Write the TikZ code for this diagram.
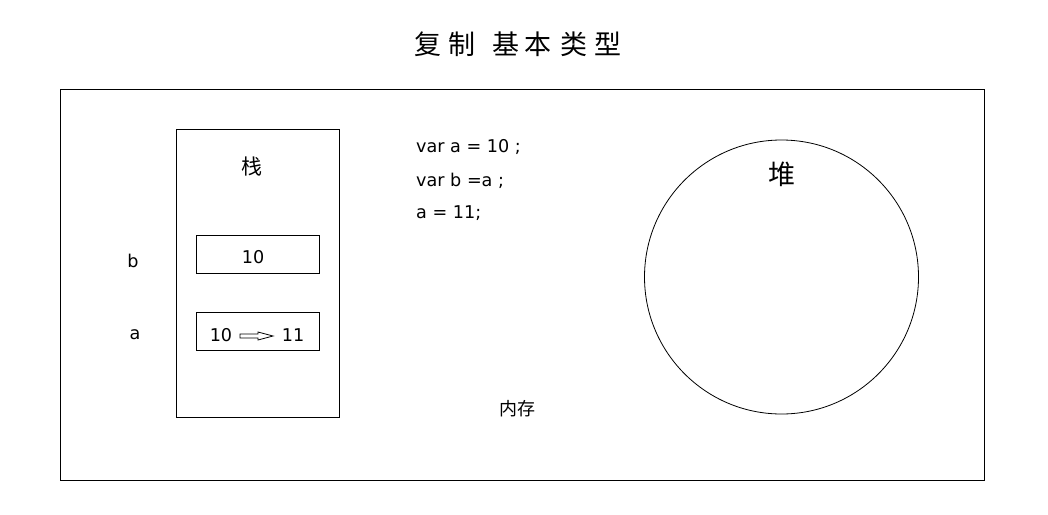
\documentclass[tikz,border=0pt]{standalone}
\usepackage{fontspec}
\setmainfont{DejaVu Sans}
\newfontfamily\cjk{Noto Sans CJK SC}
\usetikzlibrary{calc}
\tikzset{
  box/.style={draw=black, line width=0.8pt},
  txt/.style={inner sep=0pt, font=\fontsize{17.6}{20}\selectfont},
  cjktxt/.style={inner sep=0pt},
}
\begin{document}
\begin{tikzpicture}[x=1pt,y=-1pt]
\useasboundingbox[fill=white] (0,0) rectangle (1048,514);
% title
\node[cjktxt, font=\cjk\fontsize{27}{27}\selectfont] (title) at (518,44)
  {复\hspace{7pt}制\hspace{17pt}基\hspace{5pt}本\hspace{9pt}类\hspace{7pt}型};
% outer memory frame
\draw[box] (60,89) rectangle (984,480);
% stack
\draw[box] (176,129) rectangle (339,417);
\node[cjktxt, font=\cjk\fontsize{21}{21}\selectfont] (stack) at (252,167) {栈};
% box b
\node[box, minimum width=123pt, minimum height=38pt, inner sep=0pt] (bbox) at (257.5,254) {};
\node[txt] (bval) at (253,257) {10};
\node[txt] (blabel) at (133,261) {b};
% box a
\node[box, minimum width=123pt, minimum height=38pt, inner sep=0pt] (abox) at (257.5,331) {};
\node[txt] (aold) at (221,335) {10};
\node[txt] (anew) at (293,335) {11};
\node[txt] (alabel) at (135,335) {a};
% hollow block arrow from old to new value
\coordinate (arrs) at (240,336);
\coordinate (arre) at (273,336);
\draw[line width=0.8pt, line join=miter]
  ($(arrs)+(0,-2)$) -- ($(arre)+(-15,-2)$) -- ($(arre)+(-15,-4)$) -- (arre)
  -- ($(arre)+(-15,4)$) -- ($(arre)+(-15,2)$) -- ($(arrs)+(0,2)$) -- cycle;
% code
\node[txt, anchor=west] (c1) at (416,147) {var a = 10 ;};
\node[txt, anchor=west] (c2) at (416,181) {var b =a ;};
\node[txt, anchor=west] (c3) at (416,213) {a = 11;};
% heap
\node[draw=black, line width=0.8pt, circle, minimum size=274pt, inner sep=0pt] (heap) at (781.5,277) {};
\node[cjktxt, font=\cjk\fontsize{27}{27}\selectfont] (heaplabel) at (782,174) {堆};
% memory label
\node[cjktxt, font=\cjk\fontsize{18}{18}\selectfont] (mem) at (517,409) {内存};
\end{tikzpicture}
\end{document}
